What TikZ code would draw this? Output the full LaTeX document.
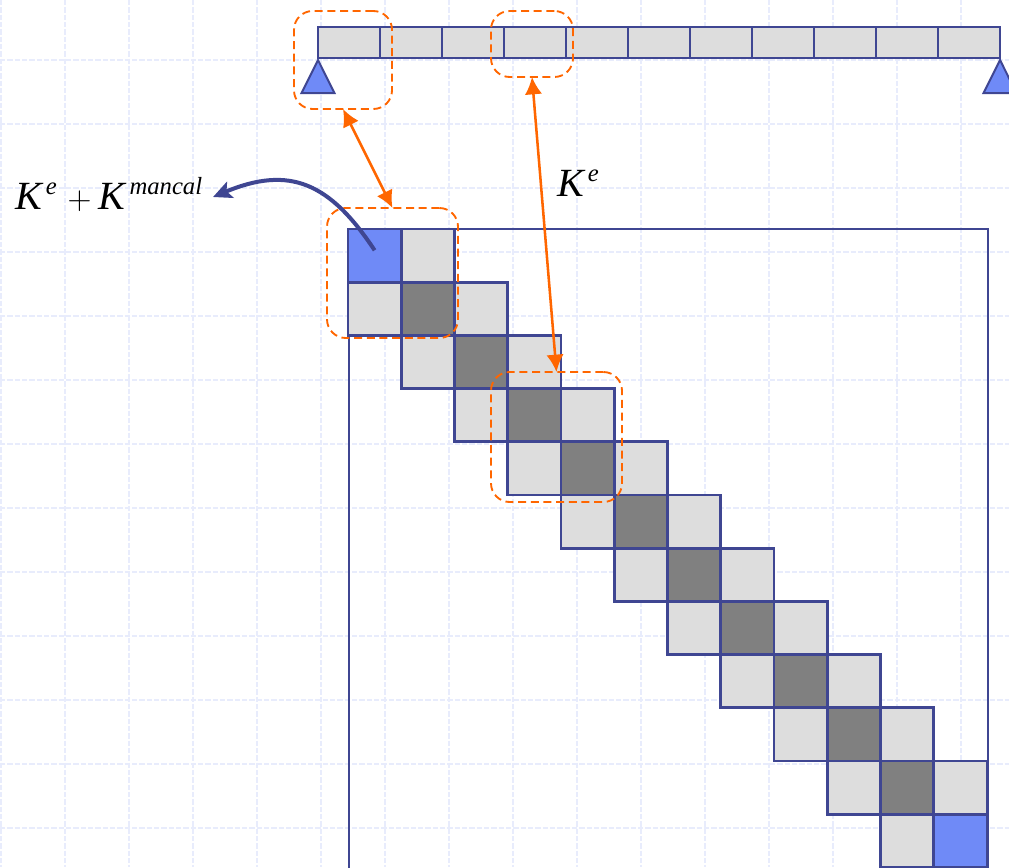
\documentclass[tikz,border=0pt]{standalone}
\usepackage{amsmath, amssymb}
\usepackage{fontspec}
\usepackage{xcolor}
\usepackage{tikz}
\usetikzlibrary{positioning, shapes.geometric, arrows.meta}
\setmainfont{Liberation Serif}
\DeclareMathSizes{30}{30}{18.5}{14}
\newcommand{\supvar}[1]{\kern3pt\raisebox{-2pt}{$\scriptstyle\textit{#1}$}}
\definecolor{lineblue}{HTML}{3F4692}
\definecolor{supportblue}{HTML}{6F8AF7}
\definecolor{cellgrey}{HTML}{DDDDDD}
\definecolor{diaggrey}{HTML}{808080}
\definecolor{markorange}{HTML}{FF6600}
\definecolor{gridblue}{HTML}{E8ECFC}
\tikzset{
  gridline/.style={draw=gridblue, line width=1.2pt, dash pattern=on 4pt off 1.5pt},
  beamcell/.style={rectangle, draw=lineblue, fill=cellgrey, line width=1.6pt, outer sep=0pt, inner sep=0pt, minimum width=46.5pt, minimum height=23.25pt},
  cell/.style={rectangle, draw=lineblue, fill=cellgrey, line width=2pt, outer sep=0pt, inner sep=0pt, minimum size=39.9pt},
  diagcell/.style={cell, fill=diaggrey},
  endcell/.style={cell, fill=supportblue},
  frame/.style={rectangle, draw=lineblue, line width=2pt, outer sep=0pt, anchor=north west, minimum width=479.25pt, minimum height=520pt},
  support/.style={isosceles triangle, isosceles triangle apex angle=53, shape border rotate=90, draw=lineblue, fill=supportblue, line width=1.5pt, inner sep=0pt, outer sep=0pt, minimum height=24.75pt, anchor=apex},
  marker/.style={rectangle, draw=markorange, line width=1.4pt, dash pattern=on 6pt off 3.5pt, rounded corners=14pt, outer sep=0pt, inner sep=0pt},
  label/.style={font=\fontsize{30}{36}\selectfont, inner sep=0pt, anchor=base west},
  arrow/.style={draw=markorange, line width=1.9pt, {Latex[length=13pt, width=13pt]}-{Latex[length=13pt, width=13pt]}},
  curvearrow/.style={draw=lineblue, line width=3pt, -{Stealth[length=14pt, width=13pt, inset=3pt]}},
}
\begin{document}
\begin{tikzpicture}[x=0.75pt, y=-0.75pt]
  \clip[use as bounding box] (0,0) rectangle (1009,867);
  \foreach \gx in {1,65,...,961}
    \draw[gridline] (\gx,0) -- (\gx,867);
  \foreach \gy in {60,124,...,828}
    \draw[gridline] (0,\gy) -- (1009,\gy);

  \node[beamcell] (beam1) at (349,42.5) {};
  \foreach \i [remember=\i as \prev (initially 1)] in {2,...,11}
    \node[beamcell, right=0pt of beam\prev] (beam\i) {};

  \node[support] (supportL) at (318,60) {};
  \node[support] (supportR) at (1000,60) {};

  \node[frame] (matrix) at (349,229) {};
  \foreach \i in {0,...,10} {
    \node[cell] (upper\i) at ({348+53.25*(\i+1)+26.6},{229+53.2*\i+26.6}) {};
    \node[cell] (lower\i) at ({348+53.25*\i+26.6},{229+53.2*(\i+1)+26.6}) {};
  }
  \foreach \i in {1,...,10}
    \node[diagcell] (diag\i) at ({348+53.25*\i+26.6},{229+53.2*\i+26.6}) {};
  \node[endcell] (first) at (374.6,255.6) {};
  \node[endcell] (last) at (960.4,840.8) {};

  \node[marker, minimum width=73.5pt, minimum height=73.5pt] (support box) at (343,60) {};
  \node[marker, minimum width=61.5pt, minimum height=49.5pt] (element box) at (532,44) {};
  \node[marker, minimum width=98.25pt, minimum height=97.5pt] (first box) at (392.5,273) {};
  \node[marker, minimum width=98.25pt, minimum height=97.5pt] (inner box) at (556.5,437) {};

  \node[label] (mancal) at (15,209) {$\textit{K}^{\supvar{e}}\kern2pt+\textit{K}^{\supvar{mancal}}$};
  \node[label] (element) at (557,196) {$\textit{K}^{\supvar{e}}$};
  \coordinate (mancal end) at (213,197);
  \coordinate[above=4pt of first.center] (curve start);

  \draw[arrow] (support box.south) -- (first box.north);
  \draw[arrow] (element box.south) -- (inner box.north);
  \draw[curvearrow] (curve start) .. controls (330,183) and (290,165) .. (mancal end);
\end{tikzpicture}
\end{document}
